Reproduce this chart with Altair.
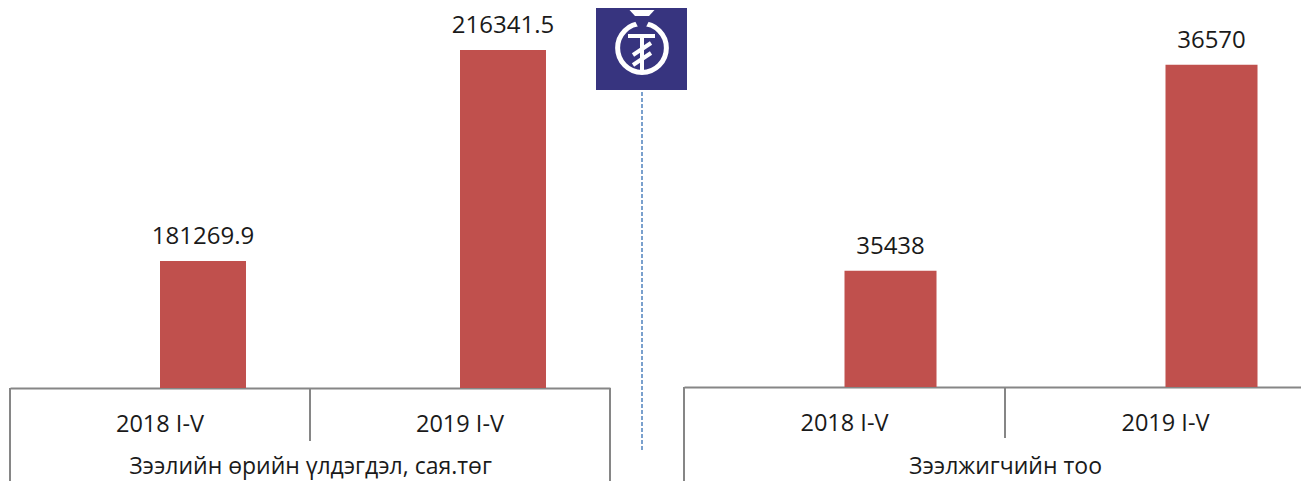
import altair as alt
import pandas as pd

categories = ["2018 I-V", "2019 I-V"]
debt_values = [181269.9, 216341.5]
debt_labels = ["181269.9", "216341.5"]
borrower_values = [35438, 36570]
borrower_labels = ["35438", "36570"]
debt_title = "Зээлийн өрийн үлдэгдэл, сая.төг"
borrower_title = "Зээлжигчийн тоо"
series_slots = ["blank", "value"]

BAR = "#C0504D"
AXIS = "#868686"
TEXT = "#1a1a1a"
NAVY = "#37347F"
FONT = "Open Sans"
dummy = pd.DataFrame({"k": [0]})


def panel(values, labels, title, x_range, y_range, y_domain, padding, offset, label_pad, title_pad):
    df = pd.DataFrame({"cat": categories, "v": values, "label": labels, "slot": "value"})
    x = alt.X(
        "cat:N",
        sort=categories,
        scale=alt.Scale(domain=categories, range=x_range, paddingInner=padding, paddingOuter=padding / 2),
        axis=alt.Axis(
            title=title, orient="bottom", offset=offset, labelAngle=0, ticks=False,
            domainColor=AXIS, domainWidth=2,
            labelFont=FONT, labelFontSize=23.5, labelColor=TEXT, labelPadding=label_pad,
            titleFont=FONT, titleFontSize=23, titleFontWeight="normal", titleColor=TEXT, titlePadding=title_pad,
        ),
    )
    xo = alt.XOffset("slot:N", scale=alt.Scale(domain=series_slots))
    y = alt.Y("v:Q", scale=alt.Scale(domain=y_domain, range=y_range, nice=False, zero=False), axis=None)
    bars = alt.Chart(df).mark_bar(color=BAR, clip=True).encode(x=x, xOffset=xo, y=y, y2=alt.datum(y_domain[0]))
    text = alt.Chart(df).mark_text(font=FONT, fontSize=24, color=TEXT, baseline="bottom", dy=-12).encode(
        x=x, xOffset=xo, y=y, text="label:N"
    )
    return alt.layer(bars, text)


def line(x, y, x2, y2, color, width, dash=None):
    kw = {"strokeDash": dash} if dash else {}
    return alt.Chart(dummy).mark_rule(color=color, strokeWidth=width, **kw).encode(
        x=alt.value(x), y=alt.value(y), x2=alt.value(x2), y2=alt.value(y2)
    )


def glyph(path, color, cx, cy):
    return alt.Chart(dummy).mark_point(shape=path, size=4, filled=True, color=color, opacity=1, strokeWidth=0).encode(
        x=alt.value(cx), y=alt.value(cy)
    )


left = panel(debt_values, debt_labels, debt_title, [2, 602], [380, 0], [160200, 223300], 0.4267, 0, 24, 20)
right = panel(borrower_values, borrower_labels, borrower_title, [676, 1318], [379, 0], [34800, 36882], 0.4267, -1, 24, 21)

logo_bg = alt.Chart(dummy).mark_rect(color=NAVY).encode(
    x=alt.value(588), x2=alt.value(679), y=alt.value(0), y2=alt.value(82)
)
ring = alt.Chart(dummy).mark_point(shape="circle", size=2376, filled=False, color="white", opacity=1, strokeWidth=5).encode(
    x=alt.value(634), y=alt.value(40)
)
notch = glyph("M-9,-5 L9,-5 L4,5 L-4,5 Z", NAVY, 634, 14)
cap = glyph("M-12.5,-3 L12.5,-3 L7,3 L-7,3 Z", "white", 634, 5)

deco = [
    line(2, 380, 2, 481, AXIS, 2),
    line(602, 380, 602, 481, AXIS, 2),
    line(302, 380, 302, 433, AXIS, 2),
    line(676, 379, 676, 481, AXIS, 2),
    line(997, 379, 997, 430, AXIS, 2),
    line(634, 84, 634, 442, "#4F81BD", 1.5, [4, 2]),
    logo_bg, ring, notch, cap,
    line(620, 28, 647, 28, "white", 4),
    line(634, 28, 634, 62, "white", 4),
    line(625, 47, 643, 35, "white", 4),
    line(625, 57, 643, 45, "white", 4),
]

chart = (
    alt.layer(left, right, *deco)
    .resolve_scale(x="independent", y="independent", xOffset="independent")
    .properties(
        width=1293, height=380,
        autosize=alt.AutoSizeParams(type="none"),
        padding={"left": 0, "top": 0, "right": 0, "bottom": 93},
    )
    .configure_view(stroke=None)
    .configure_axis(grid=False)
)
chart.save("out.html", embed_options={"renderer": "svg", "actions": False})
